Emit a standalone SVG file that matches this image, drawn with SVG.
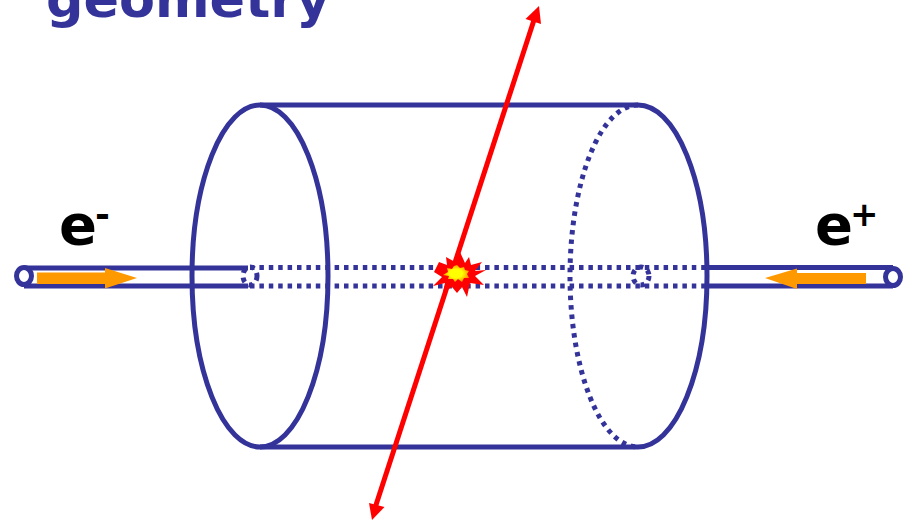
<svg xmlns="http://www.w3.org/2000/svg" width="914" height="520" viewBox="0 0 914 520">
<style>
.s{fill:none;stroke:#333399;stroke-width:5}
.d{fill:none;stroke:#333399;stroke-width:5;stroke-dasharray:4.5 4.900}
.o{fill:#ff9900}
.t{font-family:"DejaVu Sans",Verdana,sans-serif;font-weight:700;fill:#000}
</style>
<defs>
<radialGradient id="g"><stop offset="0.5" stop-color="#ffff00"/><stop offset="1" stop-color="#ff9900"/></radialGradient>
</defs>
<rect width="914" height="520" fill="#fff"/>
<text id="title" x="46" y="17" class="t" font-size="52.400" style="fill:#333399">geometry</text>
<g id="cylinder">
<ellipse class="s" cx="260" cy="276" rx="68" ry="171"/>
<path class="s" d="M260 105H638M260 447H638"/>
<path class="s" d="M638 105A69 171 0 0 1 638 447"/>
<path class="d" d="M638 105A68 171 0 0 0 638 447"/>
</g>
<g id="beam-pipe">
<path class="d" d="M250 267.500H707M250 286H707"/>
<ellipse class="d" cx="250" cy="276" rx="7" ry="9" stroke-dasharray="3 4"/>
<ellipse class="d" cx="641" cy="276" rx="8" ry="9" stroke-dasharray="3 4"/>
</g>
<g id="left-pipe">
<path class="s" d="M24 268H248M24 286H248"/>
<ellipse class="s" cx="24" cy="276" rx="7.500" ry="8.500" style="fill:#fff"/>
<path class="o" d="M37 272.500H105V268L137 278 105 288.500V284H37Z"/>
</g>
<g id="right-pipe">
<path class="s" d="M707 267.500H893M707 286H893"/>
<ellipse class="s" cx="893" cy="277" rx="7.500" ry="8.500" style="fill:#fff"/>
<path class="o" d="M866 273H797V268.500L765 278 797 289V284H866Z"/>
</g>
<g id="connectors">
<path d="M375 508 534 20" stroke="#ff0000" stroke-width="5" fill="none"/>
<path d="M539 6 525.500 19 541 24Z" fill="#ff0000"/>
<path d="M372 520 369 503 384.500 507Z" fill="#ff0000"/>
</g>
<g id="collision">
<path fill="#ff0000" d="M460 252 465 263 469 257 471 265 482 262 475 271 486 270 475 276 484 285 470 283 467 297 462 287 457 293 452 287 443 292 445 283 433 286 442 277 434 272 439 262 447 265 446 257 455 262Z"/>
<path fill="url(#g)" d="M457 265 460 268 464 267 465 270 469 271 467 274 469 278 464 278 462 282 458 279 455 282 453 279 448 279 449 276 443 275 448 272 447 268 452 269 454 266Z"/>
</g>
<g id="labels">
<text x="59" y="244" class="t" font-size="56">e<tspan font-size="36" dx="-2" dy="-17">-</tspan></text>
<text x="815" y="244" class="t" font-size="56">e<tspan font-size="34" dx="-3" dy="-18">+</tspan></text>
</g>
</svg>
